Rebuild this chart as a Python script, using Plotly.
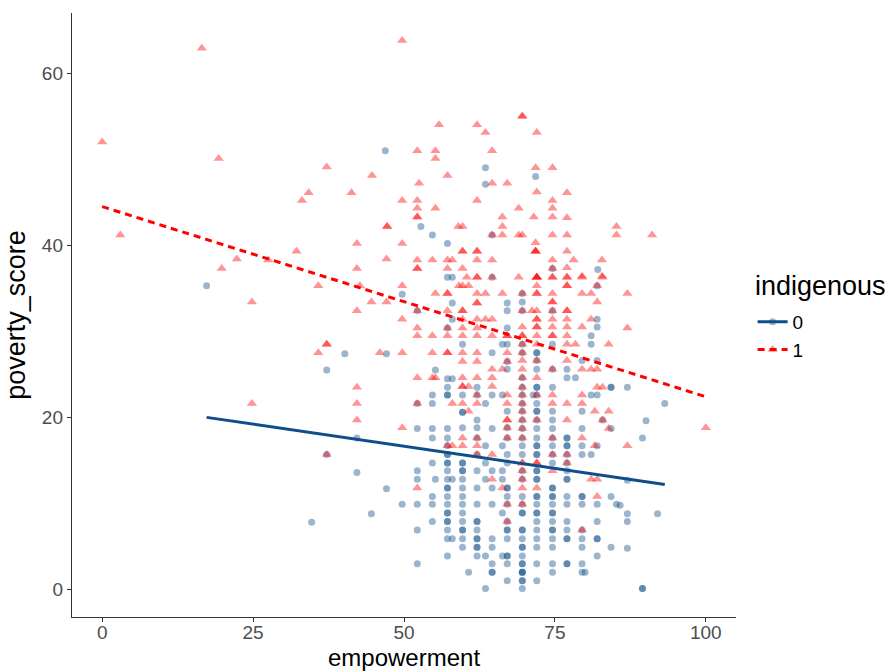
import plotly.graph_objects as go

# (empowerment, poverty_score) pairs, indigenous == 0
points_0 = [
    (17.3, 35.3), (34.7, 7.8), (37.2, 25.5), (37.2, 15.7), (40.2, 27.4), (42.2, 17.6),
    (42.2, 13.6), (44.6, 8.8), (46.9, 51.0), (47.1, 27.4), (47.1, 11.7),
    (63.5, 49.0), (71.8, 48.0), (63.5, 47.1), (52.8, 42.2), (54.7, 41.2), (64.6, 41.2),
    (57.2, 40.2), (57.2, 36.3), (58.0, 36.3), (64.6, 36.3), (74.6, 37.3), (82.1, 37.2),
    (49.7, 34.3), (58.0, 33.3), (67.1, 33.3), (52.2, 32.4), (67.1, 32.4), (58.0, 31.4),
    (57.2, 30.4), (67.1, 30.4), (59.7, 28.5), (66.3, 28.5), (67.1, 28.5), (64.6, 27.5),
    (67.1, 26.5), (55.2, 25.5), (67.1, 25.6), (57.2, 24.5), (58.0, 24.5), (57.2, 23.5),
    (62.1, 23.5), (54.7, 22.6), (57.2, 22.6), (57.2, 22.6), (59.7, 22.6), (62.1, 22.6),
    (64.6, 22.6), (66.3, 22.6), (52.2, 21.6), (54.7, 21.6), (63.5, 21.6), (59.7, 20.6),
    (59.7, 20.6), (67.1, 20.7), (62.1, 19.7), (52.2, 18.7), (54.7, 18.7), (57.2, 18.7),
    (59.7, 18.8), (62.1, 18.8), (64.6, 18.7), (67.1, 18.8),
    (54.7, 17.6), (57.2, 17.6), (62.1, 17.6), (67.1, 17.6),
    (57.2, 16.7), (63.5, 16.7), (66.3, 16.7),
    (57.2, 15.7), (57.2, 15.7), (62.1, 15.7), (67.1, 15.7),
    (54.7, 14.7), (57.2, 14.7), (57.2, 14.7), (59.7, 14.7), (59.7, 14.7), (63.5, 14.7), (67.1, 14.7),
    (52.2, 13.8), (57.2, 13.8), (59.7, 13.8), (59.7, 13.8), (62.1, 13.8), (64.6, 13.8), (66.3, 13.8),
    (52.2, 12.8), (55.2, 12.8), (57.2, 12.8), (58.0, 12.8), (59.7, 12.8), (63.5, 12.8), (66.3, 12.8),
    (57.2, 11.8), (57.2, 11.8), (59.7, 11.8), (62.1, 11.8), (64.6, 11.8), (67.1, 11.8), (67.1, 11.8),
    (54.7, 10.8), (57.2, 10.8), (59.7, 10.8), (67.1, 10.8),
    (49.7, 9.9), (52.2, 9.9), (54.7, 9.9), (57.2, 9.9), (59.7, 9.9), (62.1, 9.9), (64.6, 9.9), (67.1, 9.9),
    (57.2, 8.9), (57.2, 8.9), (59.7, 8.9), (66.3, 8.9),
    (54.7, 7.9), (57.2, 7.9), (57.2, 7.9), (59.7, 7.9), (62.1, 7.9), (62.1, 7.9), (67.1, 7.9),
    (52.2, 6.9), (57.2, 6.9), (59.7, 6.9), (59.7, 6.9), (62.1, 6.9), (67.1, 6.9), (67.1, 6.9),
    (57.2, 5.9), (58.0, 5.9), (59.7, 5.9), (62.1, 5.9), (62.1, 5.9), (64.6, 5.9), (67.1, 5.9),
    (59.7, 4.9), (62.1, 4.9), (62.1, 4.9), (64.6, 4.9),
    (57.2, 3.9), (62.1, 3.9), (63.5, 3.9), (66.3, 3.9), (67.1, 3.9), (67.1, 3.9),
    (52.2, 3.0), (64.6, 3.0), (67.1, 3.0),
    (60.7, 2.0), (64.6, 2.0), (64.6, 2.0), (69.6, 2.0),
    (67.1, 1.0), (63.5, 0.1),
    (82.0, 35.3), (69.6, 34.4), (69.6, 33.4), (69.6, 32.4), (74.6, 32.4), (82.0, 31.4),
    (82.0, 30.5), (81.0, 29.5), (69.6, 28.5), (74.6, 28.5), (81.0, 28.5),
    (69.6, 27.5), (72.0, 27.5), (72.0, 27.5), (72.0, 26.6), (79.5, 26.6), (82.0, 26.6),
    (72.0, 25.6), (74.6, 25.6), (77.0, 25.6), (69.6, 24.6), (77.0, 24.6), (78.4, 24.6),
    (69.6, 23.5), (72.0, 23.5), (72.0, 23.5), (74.6, 23.5), (84.3, 23.5), (84.3, 23.5),
    (69.6, 22.6), (71.4, 22.6), (72.0, 22.6), (81.0, 22.6), (82.0, 22.6),
    (69.6, 21.6), (72.0, 21.6),
    (69.6, 20.7), (72.0, 20.7), (72.0, 20.7), (74.6, 20.7), (79.5, 20.7),
    (69.6, 19.7), (72.0, 19.7), (74.6, 19.7), (82.9, 19.7),
    (69.6, 18.7), (72.0, 18.7), (74.6, 18.7), (79.5, 18.7), (84.3, 18.7),
    (69.6, 17.6), (72.0, 17.6), (74.6, 17.6), (77.0, 17.6), (77.0, 17.6),
    (69.6, 16.7), (72.0, 16.7), (72.0, 16.7), (74.6, 16.7), (77.0, 16.7), (77.0, 16.7), (79.5, 16.7), (82.0, 16.7),
    (69.6, 15.7), (72.0, 15.7), (72.0, 15.7), (74.6, 15.7), (77.0, 15.7), (79.5, 15.7), (81.0, 15.7),
    (74.6, 14.7), (77.0, 14.7),
    (69.6, 13.8), (72.0, 13.8), (72.0, 13.8), (77.0, 13.8),
    (69.6, 12.8), (72.0, 12.8), (72.0, 12.8), (77.0, 12.8), (77.0, 12.8),
    (74.6, 11.8), (74.6, 11.8),
    (69.6, 10.8), (72.0, 10.8), (72.0, 10.8), (74.6, 10.8), (74.6, 10.8), (77.0, 10.8), (79.5, 10.8), (79.5, 10.8), (84.3, 10.8),
    (69.6, 9.9), (72.0, 9.9), (74.6, 9.9), (77.0, 9.9), (79.5, 9.9), (82.0, 9.9), (85.2, 9.9),
    (69.6, 8.9), (69.6, 8.9), (72.0, 8.9), (72.0, 8.9), (74.6, 8.9), (74.6, 8.9),
    (72.0, 7.9), (74.6, 7.9), (77.0, 7.9), (82.0, 7.9),
    (69.6, 6.9), (69.6, 6.9), (72.0, 6.9), (74.6, 6.9), (74.6, 6.9), (77.0, 6.9), (79.5, 6.9),
    (69.6, 5.9), (72.0, 5.9), (74.6, 5.9), (77.0, 5.9), (77.0, 5.9), (79.5, 5.9), (82.0, 5.9), (82.0, 5.9),
    (69.6, 4.9), (69.6, 4.9), (72.0, 4.9), (74.6, 4.9), (79.5, 4.9), (84.3, 4.9),
    (69.6, 3.9), (82.0, 3.9),
    (69.6, 3.0), (69.6, 3.0), (72.0, 3.0), (74.6, 3.0), (77.0, 3.0), (77.0, 3.0), (79.5, 3.0),
    (69.6, 2.0), (69.6, 2.0), (74.6, 2.0), (79.5, 2.0), (80.0, 2.0),
    (69.6, 1.0), (69.6, 1.0), (72.0, 1.0), (69.6, 0.1),
    (87.0, 23.5), (93.2, 21.6), (90.1, 19.6), (89.5, 17.6), (87.0, 12.7), (85.8, 9.8),
    (87.0, 8.8), (92.0, 8.8), (87.0, 7.9), (87.0, 4.8), (89.5, 0.1), (89.5, 0.1),
]

# (empowerment, poverty_score) pairs, indigenous == 1
points_1 = [
    (0.0, 52.0), (3.0, 41.2), (16.5, 62.9), (19.3, 50.1), (19.8, 37.3), (22.3, 38.4),
    (24.8, 33.4), (24.8, 21.6), (27.5, 38.3), (32.2, 39.3), (33.1, 45.2), (34.2, 46.1),
    (35.8, 35.3), (35.8, 27.5), (37.2, 49.1), (37.2, 28.5), (37.2, 28.5), (37.2, 15.7),
    (41.3, 46.1), (42.2, 40.2), (42.2, 37.3), (42.7, 35.3), (42.2, 32.4), (42.2, 23.5),
    (42.2, 21.6), (42.2, 19.7), (44.7, 48.1), (44.6, 33.4), (46.0, 27.5), (47.2, 42.2),
    (47.2, 42.2), (47.1, 38.4), (47.1, 33.4), (49.7, 63.8),
    (69.6, 55.0), (69.6, 55.0), (55.8, 54.0), (62.1, 54.0), (63.5, 53.1), (72.0, 53.1),
    (52.2, 51.0), (55.2, 51.0), (55.2, 50.1), (64.6, 51.0), (71.8, 49.0), (74.6, 49.0),
    (57.2, 48.1), (52.5, 47.2), (64.6, 47.2), (67.1, 47.2), (72.0, 46.2), (49.7, 45.2),
    (52.2, 45.2), (62.1, 45.2), (74.6, 45.2), (52.2, 44.3), (55.2, 44.3), (69.0, 44.3),
    (74.6, 44.3), (52.2, 43.3), (52.2, 43.3), (66.3, 43.3), (71.5, 43.3), (74.6, 43.3),
    (59.0, 42.2), (59.7, 42.2), (66.3, 42.2), (64.6, 41.2), (66.3, 41.2), (69.0, 41.2),
    (69.6, 41.2), (74.6, 41.2), (49.7, 40.2), (71.8, 40.3), (59.7, 39.3), (59.7, 39.3),
    (62.1, 39.3), (62.1, 39.3), (71.8, 39.3), (71.8, 39.3), (71.8, 39.3), (52.2, 38.3),
    (54.7, 38.3), (57.2, 38.3), (58.0, 38.3), (62.1, 38.3), (64.6, 38.3), (74.6, 38.3),
    (52.2, 37.3), (52.2, 37.3), (57.2, 37.3), (59.7, 37.3), (74.6, 37.3), (60.4, 36.3),
    (62.1, 36.3), (62.1, 36.3), (64.6, 36.3), (69.0, 36.3), (72.0, 36.3), (72.0, 36.3),
    (74.6, 36.3),
    (77.0, 46.1), (77.0, 43.2), (85.2, 42.2), (77.0, 41.2), (85.2, 41.2), (91.1, 41.2),
    (77.0, 39.3), (78.1, 38.3), (82.8, 38.3), (77.0, 37.4), (79.5, 36.4), (82.8, 36.4),
    (49.7, 35.3), (55.2, 34.4), (57.2, 34.4), (57.2, 34.4), (59.1, 35.3), (59.7, 35.3),
    (60.7, 35.3), (62.1, 34.4), (63.5, 34.4), (66.3, 34.4), (62.1, 33.3), (62.1, 33.3),
    (52.2, 32.4), (57.2, 32.4), (59.7, 32.4), (59.7, 32.4), (49.7, 31.4), (59.7, 31.4),
    (62.1, 31.4), (63.5, 31.4), (64.6, 31.4), (52.2, 30.4), (57.2, 30.4), (59.7, 30.4),
    (62.1, 30.4), (52.2, 29.5), (54.7, 29.5), (57.2, 29.5), (59.7, 29.5), (62.1, 29.5),
    (64.6, 29.5), (67.1, 29.5), (67.1, 29.5), (49.7, 27.5), (54.7, 27.5), (57.2, 27.5),
    (57.2, 27.5), (59.7, 27.5), (62.1, 27.5), (67.1, 27.5), (59.7, 26.5), (62.1, 26.5),
    (67.1, 26.5), (64.6, 25.6), (66.3, 25.6), (52.2, 24.6), (54.7, 24.6), (55.2, 24.6),
    (59.7, 24.6), (62.1, 24.6), (64.6, 24.6), (59.7, 23.6), (59.7, 23.6), (60.7, 23.6),
    (64.6, 23.6), (62.1, 22.6), (67.1, 22.6), (52.2, 21.6), (58.0, 21.6), (59.7, 21.6),
    (62.1, 21.6), (67.1, 21.6), (60.7, 20.7), (67.1, 19.7), (67.1, 19.7), (49.7, 18.8),
    (67.1, 18.8),
    (59.7, 17.6), (62.1, 17.6), (67.1, 17.6), (57.2, 16.7), (58.0, 16.7), (59.7, 16.7),
    (62.1, 16.7), (62.1, 15.7), (64.6, 15.7), (64.6, 12.8), (52.2, 11.8), (66.3, 11.8),
    (67.1, 9.9), (67.1, 7.9),
    (72.0, 36.3), (72.0, 36.3), (74.6, 36.3), (77.0, 36.3), (77.0, 36.3), (79.5, 36.3), (82.9, 36.3),
    (72.0, 35.3), (77.0, 35.3), (77.0, 35.3), (82.0, 35.3),
    (69.6, 34.4), (72.0, 34.4), (72.0, 34.4), (74.6, 34.4), (79.5, 34.4), (81.0, 34.4),
    (74.6, 33.4), (74.6, 33.4), (82.0, 33.4),
    (69.6, 32.4), (71.2, 32.4), (72.0, 32.4), (74.6, 32.4), (77.0, 32.4), (77.0, 32.4),
    (72.0, 31.4), (72.0, 31.4), (74.6, 31.4), (77.0, 31.4), (81.0, 31.4),
    (69.6, 30.5), (72.0, 30.5), (72.0, 30.5), (74.6, 30.5), (77.0, 30.5), (79.5, 30.5),
    (69.6, 29.5), (69.6, 29.5), (72.0, 29.5), (74.6, 29.5), (74.6, 29.5), (77.0, 29.5),
    (69.6, 28.5), (72.0, 28.5), (77.0, 28.5), (78.4, 28.5), (83.9, 28.5),
    (69.6, 27.5), (69.6, 26.6), (72.0, 26.6), (77.0, 26.6),
    (69.6, 25.6), (74.6, 25.6), (79.5, 25.6), (81.0, 25.6), (82.0, 25.6),
    (69.6, 24.6), (72.0, 24.6), (69.6, 23.5), (82.0, 23.5), (82.9, 23.5),
    (69.6, 22.6), (72.0, 22.6), (74.6, 22.6), (79.5, 22.6),
    (69.6, 21.6), (74.6, 21.6), (77.0, 21.6), (79.5, 21.6),
    (69.6, 20.7), (81.6, 20.7), (83.9, 20.7),
    (69.6, 19.7), (72.0, 19.7), (77.0, 19.7), (82.9, 19.7), (69.6, 18.7), (83.9, 18.7),
    (69.6, 17.6), (74.6, 17.6), (79.5, 17.6), (81.6, 16.7), (74.6, 15.7), (77.0, 15.7),
    (69.6, 14.7), (69.6, 14.7), (72.0, 14.7), (72.0, 14.7), (77.0, 14.7),
    (69.6, 13.8), (74.6, 13.8), (69.6, 12.8), (81.0, 12.8), (82.0, 12.8),
    (69.6, 11.8), (72.0, 11.8), (82.0, 10.8), (69.6, 9.9), (79.5, 6.9),
    (87.0, 34.4), (87.0, 30.4), (87.0, 16.7), (100.0, 18.8),
]

# linear fit (intercept, slope) of poverty_score on empowerment per group
fit_0 = (21.78, -0.1028)
fit_1 = (44.5, -0.221)

groups = ["0", "1"]
colors = {"0": "#104E8B", "1": "#FF0000"}
symbols = {"0": "circle", "1": "triangle-up"}
sizes = {"0": 7, "1": 9}
dashes = {"0": "solid", "1": "7px,5px"}

emp_0 = [p[0] for p in points_0]
pov_0 = [p[1] for p in points_0]
emp_1 = [p[0] for p in points_1]
pov_1 = [p[1] for p in points_1]

series = {"0": (emp_0, pov_0, fit_0), "1": (emp_1, pov_1, fit_1)}

FONT = "Liberation Sans, Arial, sans-serif"

fig = go.Figure()

for g in groups:
    xs, ys, _ = series[g]
    fig.add_trace(go.Scatter(
        x=xs, y=ys, mode="markers", showlegend=False, legendgroup=g,
        marker=dict(symbol=symbols[g], size=sizes[g], color=colors[g],
                    opacity=0.42, line=dict(width=0)),
        hoverinfo="skip",
    ))

for g in groups:
    xs, ys, (b0, b1) = series[g]
    x_line = [min(xs), max(xs)]
    y_line = [b0 + b1 * x for x in x_line]
    fig.add_trace(go.Scatter(
        x=x_line, y=y_line, mode="lines", showlegend=False, legendgroup=g,
        line=dict(color=colors[g], width=3, dash=dashes[g]),
    ))

# legend keys: line plus point, as in the group styling
for g in groups:
    fig.add_trace(go.Scatter(
        x=[None], y=[None], mode="lines+markers", name=g, legendgroup=g,
        line=dict(color=colors[g], width=3, dash=dashes[g]),
        marker=dict(symbol=symbols[g], size=sizes[g], color=colors[g], opacity=0.42),
    ))

axis_common = dict(
    showgrid=False, zeroline=False, showline=True, linecolor="#333333", linewidth=1.4,
    ticks="outside", ticklen=4, tickwidth=1.2, tickcolor="#333333", automargin=False,
    tickfont=dict(family=FONT, size=19, color="#4D4D4D"),
    title_font=dict(family=FONT, size=27, color="#000000"),
)

fig.update_layout(
    width=890, height=672,
    margin=dict(l=72, r=154, t=13, b=55),
    paper_bgcolor="white", plot_bgcolor="white",
    xaxis=dict(range=[-5, 105], tickvals=[0, 25, 50, 75, 100],
               ticklabelstandoff=-6, **axis_common),
    yaxis=dict(range=[-3.2, 67.0], tickvals=[0, 20, 40, 60],
               title=dict(text="poverty_score", standoff=8), **axis_common),
    legend=dict(
        font=dict(family=FONT, size=19, color="#000000"),
        x=1.025, xanchor="left", y=0.52, yanchor="top",
        itemwidth=30, tracegroupgap=0, bgcolor="rgba(0,0,0,0)",
    ),
    annotations=[
        dict(text="indigenous", x=1.025, xref="paper", xanchor="left",
             y=0.548, yref="paper", yanchor="middle", showarrow=False,
             font=dict(family=FONT, size=27, color="#000000")),
        dict(text="empowerment", x=0.5, xref="paper", xanchor="center",
             y=-0.0905, yref="paper", yanchor="bottom", showarrow=False,
             borderpad=0, font=dict(family=FONT, size=24, color="#000000")),
    ],
)

fig.write_html("out.html")
